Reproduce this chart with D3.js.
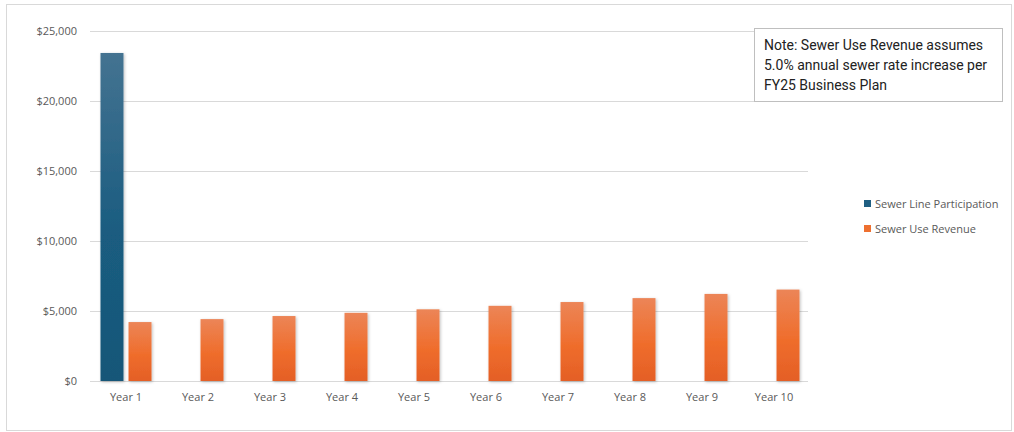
<!DOCTYPE html>
<html>
<head>
<meta charset="utf-8">
<script src="https://cdn.jsdelivr.net/npm/d3@7"></script>
<style>
  body { margin: 0; background: #fff; }
  text { font-family: "Open Sans", "Noto Sans", sans-serif; }
  .note { font-family: Roboto, "Noto Sans", sans-serif; }
</style>
</head>
<body>
<div id="chart"></div>
<script>
// chart data
const years = ["Year 1", "Year 2", "Year 3", "Year 4", "Year 5", "Year 6", "Year 7", "Year 8", "Year 9", "Year 10"];
const seriesNames = ["Sewer Line Participation", "Sewer Use Revenue"];
const lineParticipation = [23430, 0, 0, 0, 0, 0, 0, 0, 0, 0];
const useRevenue = [4210, 4420, 4640, 4870, 5120, 5370, 5640, 5920, 6220, 6530];
const yTicks = [0, 5000, 10000, 15000, 20000, 25000];
const noteLines = ["Note: Sewer Use Revenue assumes", "5.0% annual sewer rate increase per", "FY25 Business Plan"];

const width = 1014;
const height = 432;
const plot = { left: 90, right: 810, top: 31, bottom: 381 };

const svg = d3.select("#chart")
    .append("svg")
    .attr("width", width)
    .attr("height", height);

const defs = svg.append("defs");

// gradients for the bars
const gradBlue = defs.append("linearGradient").attr("id", "gBlue")
    .attr("x1", 0).attr("y1", 0).attr("x2", 0).attr("y2", 1);
gradBlue.append("stop").attr("offset", "0%").attr("stop-color", "#447391");
gradBlue.append("stop").attr("offset", "55%").attr("stop-color", "#1a5c80");
gradBlue.append("stop").attr("offset", "100%").attr("stop-color", "#175778");

const gradOrange = defs.append("linearGradient").attr("id", "gOrange")
    .attr("x1", 0).attr("y1", 0).attr("x2", 0).attr("y2", 1);
gradOrange.append("stop").attr("offset", "0%").attr("stop-color", "#ec8557");
gradOrange.append("stop").attr("offset", "55%").attr("stop-color", "#ef6d2c");
gradOrange.append("stop").attr("offset", "100%").attr("stop-color", "#e45f26");

const shadow = defs.append("filter").attr("id", "shadow")
    .attr("x", "-30%").attr("y", "-5%").attr("width", "160%").attr("height", "110%");
shadow.append("feDropShadow")
    .attr("dx", 1).attr("dy", 1).attr("stdDeviation", 1.5)
    .attr("flood-color", "#000").attr("flood-opacity", 0.25);

// outer frame
svg.append("rect")
    .attr("x", 6.5).attr("y", 4.5)
    .attr("width", 1005).attr("height", 426)
    .attr("fill", "#fff").attr("stroke", "#d9d9d9");

// scales
const x = d3.scaleBand().domain(years).range([plot.left, plot.right]);
const xInner = d3.scaleBand().domain(seriesNames).range([0, x.bandwidth()])
    .paddingInner(0.18).paddingOuter(0.375);
const y = d3.scaleLinear().domain([0, 25000]).range([plot.bottom, plot.top]);

// gridlines
svg.append("g")
    .selectAll("line")
    .data(yTicks)
    .enter().append("line")
    .attr("x1", plot.left).attr("x2", plot.right - 2)
    .attr("y1", d => y(d) + 0.5).attr("y2", d => y(d) + 0.5)
    .attr("stroke", "#d9d9d9").attr("stroke-width", 1);

// y axis labels
const fmt = d3.format(",");
svg.append("g")
    .selectAll("text")
    .data(yTicks)
    .enter().append("text")
    .attr("x", 77)
    .attr("y", d => y(d) + 4)
    .attr("text-anchor", "end")
    .attr("font-size", 11)
    .attr("fill", "#595959")
    .text(d => "$" + fmt(d));

// x axis labels
svg.append("g")
    .selectAll("text")
    .data(years)
    .enter().append("text")
    .attr("x", d => x(d) + x.bandwidth() / 2)
    .attr("y", 401)
    .attr("text-anchor", "middle")
    .attr("font-size", 11)
    .attr("fill", "#595959")
    .text(d => d);

// bars
const fills = ["url(#gBlue)", "url(#gOrange)"];
const seriesValues = [lineParticipation, useRevenue];
seriesNames.forEach(function (name, si) {
    svg.append("g")
        .attr("filter", "url(#shadow)")
        .selectAll("rect")
        .data(seriesValues[si].map((v, i) => ({ year: years[i], value: v })).filter(d => d.value > 0))
        .enter().append("rect")
        .attr("x", d => x(d.year) + xInner(name))
        .attr("width", xInner.bandwidth())
        .attr("y", d => y(d.value))
        .attr("height", d => y(0) - y(d.value))
        .attr("fill", fills[si]);
});

// legend
const legendColors = ["#1f5f82", "#ee7030"];
const legend = svg.append("g");
seriesNames.forEach(function (name, i) {
    legend.append("rect")
        .attr("x", 864).attr("y", 200 + i * 25)
        .attr("width", 7).attr("height", 7)
        .attr("fill", legendColors[i]);
    legend.append("text")
        .attr("x", 875).attr("y", 208 + i * 25)
        .attr("font-size", 11)
        .attr("fill", "#595959")
        .text(name);
});

// note box
svg.append("rect")
    .attr("x", 754.5).attr("y", 28.5)
    .attr("width", 248).attr("height", 73)
    .attr("fill", "#fff").attr("stroke", "#bfbfbf");
svg.append("g")
    .selectAll("text")
    .data(noteLines)
    .enter().append("text")
    .attr("class", "note")
    .attr("x", 764)
    .attr("y", (d, i) => 50 + i * 20)
    .attr("font-size", 14)
    .attr("fill", "#222")
    .text(d => d);
</script>
</body>
</html>
